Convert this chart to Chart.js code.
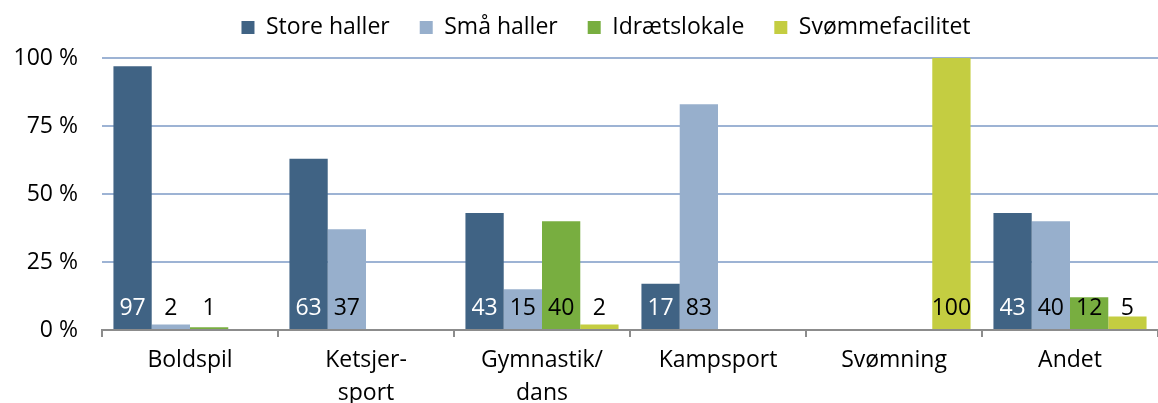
<!DOCTYPE html>
<html>
<head>
<meta charset="utf-8">
<script src="https://cdn.jsdelivr.net/npm/chart.js@4.4.0/dist/chart.umd.min.js"></script>
<style>
  html, body { margin: 0; padding: 0; background: #fff; overflow: hidden; }
  #wrap { width: 1158px; height: 403px; position: relative; }
</style>
</head>
<body>
<div id="wrap"><canvas id="chart"></canvas></div>
<script>
// Data
const categories = ['Boldspil', ['Ketsjer-', 'sport'], ['Gymnastik/', 'dans'], 'Kampsport', 'Svømning', 'Andet'];
const storeHaller = [97, 63, 43, 17, 0, 43];
const smaaHaller = [2, 37, 15, 83, 0, 40];
const idraetslokale = [1, 0, 40, 0, 0, 12];
const svoemmefacilitet = [0, 0, 2, 0, 100, 5];
const yTicks = [0, 25, 50, 75, 100];

const FONT = '"Open Sans"';
const SIZE = 23;

// Tal nede i bunden af søjlerne
const valueLabels = {
    id: 'valueLabels',
    afterDatasetsDraw(chart) {
        const ctx = chart.ctx;
        const base = chart.scales.y.getPixelForValue(0);
        chart.data.datasets.forEach((ds, i) => {
            const meta = chart.getDatasetMeta(i);
            meta.data.forEach((bar, j) => {
                const v = ds.data[j];
                if (!v) return;
                ctx.save();
                ctx.font = SIZE + 'px ' + FONT;
                ctx.fillStyle = i === 0 ? '#ffffff' : '#000000';
                ctx.textAlign = 'center';
                ctx.textBaseline = 'middle';
                ctx.fillText(String(v), bar.x, base - 22);
                ctx.restore();
            });
        });
    }
};

// Flyt legenden lidt mod højre og op
const legendShift = {
    id: 'legendShift',
    afterLayout(chart) {
        if (chart.legend) {
            chart.legend.left += 54;
            chart.legend.top -= 19;
        }
    }
};

const chart = new Chart(document.getElementById('chart'), {
    type: 'bar',
    data: {
        labels: categories,
        datasets: [
            { label: 'Store haller', data: storeHaller, backgroundColor: '#406384' },
            { label: 'Små haller', data: smaaHaller, backgroundColor: '#97afcc' },
            { label: 'Idrætslokale', data: idraetslokale, backgroundColor: '#78ae40' },
            { label: 'Svømmefacilitet', data: svoemmefacilitet, backgroundColor: '#c4cd41' }
        ]
    },
    options: {
        responsive: true,
        maintainAspectRatio: false,
        animation: false,
        layout: { padding: { top: 5, right: 0, left: 0, bottom: 0 } },
        datasets: { bar: { categoryPercentage: 0.87, barPercentage: 1.0 } },
        plugins: {
            legend: {
                position: 'top',
                maxHeight: 53,
                labels: {
                    font: { family: FONT, size: SIZE },
                    color: '#000',
                    boxWidth: 13,
                    boxHeight: 13,
                    padding: 30
                }
            },
            tooltip: { enabled: false }
        },
        scales: {
            x: {
                grid: { display: true, drawOnChartArea: false, offset: true, color: '#8c8c8c', lineWidth: 2, tickLength: 7 },
                border: { color: '#8c8c8c', width: 2 },
                ticks: { font: { family: FONT, size: SIZE, lineHeight: 1.43 }, color: '#000', padding: 7, maxRotation: 0, autoSkip: false },
                afterFit(scale) { scale.height = 73; }
            },
            y: {
                min: 0,
                max: 100,
                afterBuildTicks(scale) { scale.ticks = yTicks.map(v => ({ value: v })); },
                ticks: { font: { family: FONT, size: SIZE }, color: '#000', padding: 24, callback: v => v + ' %' },
                grid: {
                    color: c => (c.tick && c.tick.value === 0) ? 'rgba(0,0,0,0)' : '#9db3d4',
                    lineWidth: 2,
                    drawTicks: false
                },
                border: { display: false },
                afterFit(scale) { scale.width = 102; }
            }
        }
    },
    plugins: [valueLabels, legendShift]
});
</script>
</body>
</html>
